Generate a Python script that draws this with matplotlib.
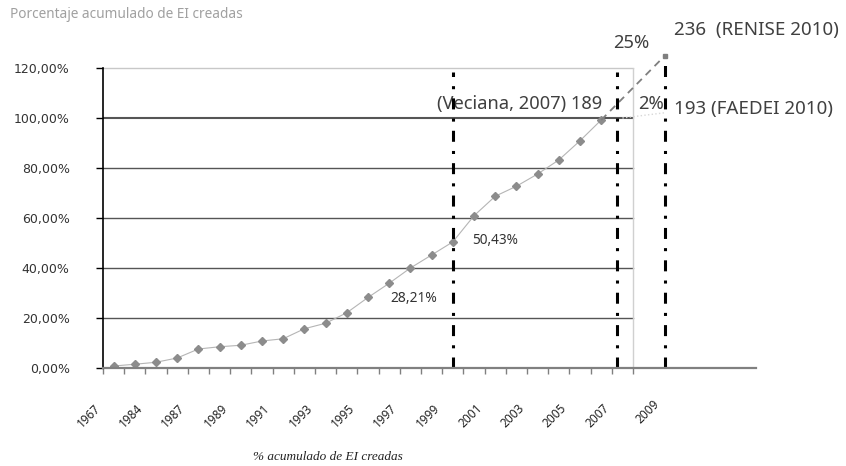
import numpy as np
import matplotlib.pyplot as plt
from matplotlib.transforms import ScaledTranslation

plt.rcParams['font.family'] = ['Noto Sans', 'DejaVu Sans']

# cumulative % of EI created, one value per category slot
share = [0.8, 1.5, 2.3, 4.0, 7.6, 8.5, 9.1, 10.8, 11.7, 15.7, 17.9, 22.1,
         28.21, 33.9, 40.0, 45.2, 50.43, 60.9, 68.7, 72.7, 77.6, 83.2, 90.9, 99.2]
# every other category is labelled
year_labels = ['1967', '1984', '1987', '1989', '1991', '1993', '1995',
               '1997', '1999', '2001', '2003', '2005', '2007', '2009']
renise_x = [23, 26]
renise = [99.2, 124.9]
faedei_x = [24, 26]
faedei = [100.0, 102.1]
yticks = [0, 20, 40, 60, 80, 100, 120]
mark_x = [16, 23.75, 26]
mark_top = [118.4, 118.4, 121.2]

fig = plt.figure(figsize=(8.46, 4.66), dpi=100)
ax = fig.add_axes([103/846, 98/466, 653/846, 300/466])
n_cat = 25
ax.set_xlim(-0.5, -0.5 + 653/21.2)
ax.set_ylim(0, 120)

# grid inside plot area only
for v in yticks[1:-1]:
    ax.plot([-0.5, n_cat - 0.5], [v, v], color='#555555',
            lw=1.5 if v == 100 else 1.0, zorder=1)
ax.plot([-0.5, n_cat - 0.5], [120, 120], color='#c8c8c8', lw=1, zorder=1, clip_on=False)
ax.plot([n_cat - 0.5, n_cat - 0.5], [0, 120], color='#d0d0d0', lw=1, zorder=1)

ax.plot(np.arange(len(share)), share, color='#b5b5b5', lw=0.8,
        marker='D', markersize=4.5, markerfacecolor='#8c8c8c',
        markeredgecolor='#8c8c8c', zorder=3)
ax.plot(renise_x, renise, color='#7f7f7f', lw=1.3, ls=(0, (4, 3)),
        marker='s', markevery=[1], markersize=3.5, zorder=3, clip_on=False)
ax.plot(faedei_x, faedei, color='#d8d8d8', lw=1.0, ls=':', zorder=3)

for x, top in zip(mark_x, mark_top):
    ax.plot([x, x], [0, top], color='black', lw=2.2,
            ls=(0, (3.6, 3, 1, 3)), zorder=4, clip_on=False)

for s in ['top', 'right']:
    ax.spines[s].set_visible(False)
ax.spines['left'].set_color('black')
ax.spines['left'].set_linewidth(1.2)
ax.spines['bottom'].set_color('#808080')
ax.spines['bottom'].set_linewidth(1.6)
ax.spines['bottom'].set_zorder(5)

ax.set_yticks(yticks)
ax.set_yticklabels([f'{v:.2f}%'.replace('.', ',') for v in yticks],
                   family='DejaVu Sans')
ax.tick_params(axis='y', length=5, width=1, color='black', pad=19,
               labelsize=9, labelcolor='#333333')

ax.set_xticks(np.arange(0, 2 * len(year_labels), 2))
ax.set_xticklabels(year_labels, rotation=45, ha='right', rotation_mode='anchor',
                   fontsize=8.5, color='#222222')
ax.tick_params(axis='x', length=0, pad=24.5)
labs = ax.get_xticklabels()
for lab in labs[:-1]:
    lab.set_transform(lab.get_transform() +
                      ScaledTranslation(-20/100, 0, fig.dpi_scale_trans))
labs[-1].set_transform(labs[-1].get_transform() +
                       ScaledTranslation(-12/100, 5/100, fig.dpi_scale_trans))
ax.set_xticks(np.arange(-0.5, n_cat, 1), minor=True)
ax.tick_params(axis='x', which='minor', length=4, width=1, color='#808080')

fig.text(10/846, 1 - 15/466, 'Porcentaje acumulado de EI creadas', fontsize=9.8,
         color='#a0a0a0', va='center', ha='left')
fig.text(328/846, 1 - 457/466, '% acumulado de EI creadas', fontsize=9.5,
         family='Liberation Serif', style='italic', color='#222222',
         ha='center', va='center')

ax.text(13.07, 27.6, '28,21%', fontsize=10, color='#333333', ha='left', va='center')
ax.text(16.93, 51.2, '50,43%', fontsize=9.8, color='#333333', ha='left', va='center')
ax.text(23.07, 105.6, '(Veciana, 2007) 189', fontsize=13.2, color='#404040',
        ha='right', va='center', clip_on=False)
ax.text(24.72, 105.6, '2%', fontsize=13.2, color='#404040', ha='left', va='center')
ax.text(24.43, 130, '25%', fontsize=13.2, color='#404040', ha='center', va='center',
        clip_on=False)
ax.text(26.45, 135, '236  (RENISE 2010)', fontsize=13.5, color='#404040',
        ha='left', va='center', clip_on=False)
ax.text(26.45, 103.6, '193 (FAEDEI 2010)', fontsize=13.5, color='#404040',
        ha='left', va='center', clip_on=False)

fig.savefig('out.png', dpi=100)
